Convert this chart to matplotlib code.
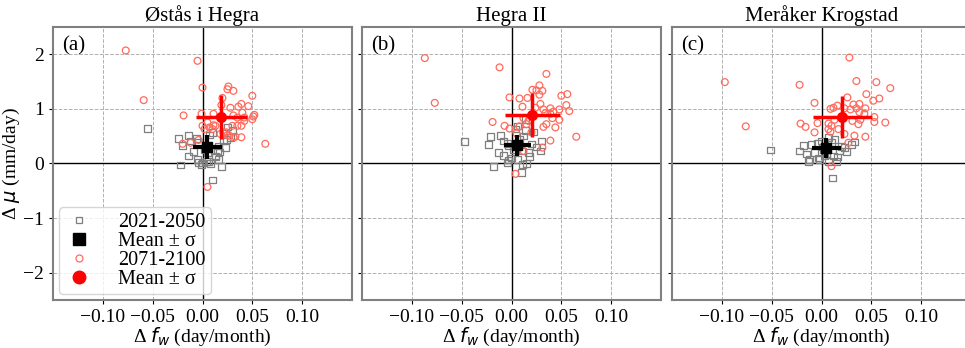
import numpy as np
import matplotlib.pyplot as plt
from matplotlib.lines import Line2D

plt.rcParams['font.family'] = ['Liberation Serif', 'DejaVu Serif']
plt.rcParams['mathtext.fontset'] = 'dejavusans'

sites = ["Østås i Hegra", "Hegra II", "Meråker Krogstad"]
panel_tags = ["(a)", "(b)", "(c)"]

# near future (2021-2050): change in wet-day frequency and mean intensity
near_fw = [
    [-0.055, -0.024, -0.020, -0.014, -0.012, -0.006, -0.004, -0.022, -0.014, -0.009,
     -0.004, -0.001, 0.008, 0.019, 0.004, 0.010, 0.025, 0.030, 0.023, 0.017,
     0.013, 0.016, 0.028, 0.021, 0.010, 0.007, -0.005, 0.000, 0.006, 0.013,
     0.015, 0.024, 0.016, 0.002, 0.005],
    [-0.047, -0.023, -0.021, -0.011, -0.004, -0.008, -0.003, -0.018, -0.008, -0.003,
     -0.004, 0.006, 0.011, 0.015, 0.010, 0.029, 0.030, 0.022, 0.014, 0.017,
     0.011, 0.004, 0.014, 0.006, 0.002, 0.008, 0.020, 0.000, 0.012, 0.025,
     -0.013, 0.018],
    [-0.051, -0.022, -0.018, -0.015, -0.012, -0.010, -0.004, 0.000, 0.002, -0.013,
     -0.002, 0.003, 0.007, 0.015, 0.012, 0.018, 0.023, 0.030, 0.033, 0.013,
     0.010, 0.007, 0.011, -0.007, 0.005, 0.020, 0.025, -0.003, 0.016, 0.001],
]
near_mu = [
    [0.64, 0.46, 0.33, 0.51, 0.41, 0.46, 0.38, -0.03, 0.14, 0.22,
     0.02, -0.02, 0.00, -0.06, 0.04, -0.30, 0.67, 0.60, 0.29, 0.21,
     0.14, 0.07, 0.48, 0.41, 0.57, 0.52, 0.07, 0.01, 0.04, 0.12,
     0.23, 0.44, 0.32, 0.26, 0.20],
    [0.40, 0.35, 0.49, 0.51, 0.37, 0.41, 0.32, -0.06, 0.15, 0.06,
     0.01, 0.07, -0.02, 0.00, -0.17, 0.23, 0.41, 0.58, 0.60, 0.20,
     0.23, 0.63, 0.81, 0.69, 0.26, 0.45, 0.36, 0.10, 0.50, 0.30,
     0.20, 0.13],
    [0.25, 0.23, 0.33, 0.17, 0.07, 0.35, 0.37, 0.41, 0.26, 0.04,
     0.07, 0.14, 0.04, 0.04, 0.14, 0.23, 0.29, 0.35, 0.39, 0.44,
     0.38, 0.48, -0.27, 0.20, 0.18, 0.31, 0.22, 0.10, 0.12, 0.30],
]

# far future (2071-2100)
far_fw = [
    [-0.077, -0.005, 0.000, -0.059, -0.019, 0.026, 0.025, 0.031, 0.050, 0.020,
     0.039, 0.046, 0.036, 0.028, 0.019, 0.040, 0.052, 0.051, 0.050, 0.042,
     0.042, 0.035, 0.031, -0.001, 0.011, 0.035, 0.039, 0.030, 0.000, 0.002,
     0.011, 0.007, 0.021, 0.018, 0.025, 0.033, 0.039, 0.031, 0.063, -0.020,
     -0.012, -0.004, 0.005, 0.005, 0.013, 0.010, 0.024, 0.027],
    [-0.087, -0.012, 0.035, -0.077, 0.028, 0.021, 0.025, 0.031, 0.028, 0.050,
     0.056, 0.055, 0.058, -0.002, 0.008, 0.016, 0.011, 0.029, 0.032, 0.039,
     0.048, 0.042, 0.039, 0.034, 0.048, 0.041, 0.044, 0.035, 0.032, -0.019,
     -0.007, -0.002, 0.008, 0.012, 0.017, 0.015, 0.065, 0.039, 0.031, 0.020,
     0.004, 0.012, 0.024, 0.005],
    [0.028, -0.097, -0.022, 0.035, 0.055, 0.069, 0.045, 0.052, 0.058, 0.038,
     0.032, 0.026, -0.007, 0.009, 0.012, 0.016, 0.023, 0.029, 0.035, 0.044,
     0.043, 0.038, 0.053, 0.053, 0.064, 0.037, 0.031, 0.039, -0.076, -0.021,
     -0.016, -0.004, 0.007, 0.013, 0.007, 0.010, -0.007, 0.009, 0.017, 0.023,
     0.033, 0.044, 0.027, 0.010],
]
far_mu = [
    [2.07, 1.88, 1.39, 1.16, 0.88, 1.41, 1.36, 1.33, 1.24, 1.20,
     1.09, 1.05, 1.04, 1.02, 1.07, 0.93, 0.89, 0.86, 0.81, 0.84,
     0.78, 0.84, 0.88, 0.91, 0.91, 0.69, 0.69, 0.69, 0.69, 0.63,
     0.70, 0.66, 0.57, 0.54, 0.52, 0.49, 0.48, 0.48, 0.36, 0.36,
     0.38, 0.43, -0.43, 0.75, 0.69, 0.63, 0.57, 0.51],
    [1.93, 1.76, 1.64, 1.11, 1.43, 1.35, 1.34, 1.33, 1.26, 1.24,
     1.27, 1.07, 0.96, 1.21, 1.19, 1.20, 1.04, 1.09, 0.99, 1.01,
     0.99, 0.95, 0.91, 0.92, 0.80, 0.83, 0.66, 0.72, 0.67, 0.76,
     0.69, 0.64, 0.68, 0.83, 0.78, 0.72, 0.49, 0.42, 0.29, 0.57,
     -0.19, 0.23, 1.02, 0.55],
    [1.94, 1.49, 1.44, 1.51, 1.49, 1.38, 1.27, 1.15, 1.19, 1.09,
     1.08, 1.21, 1.11, 1.00, 1.02, 1.06, 1.01, 0.99, 1.01, 1.01,
     0.91, 0.94, 0.85, 0.76, 0.75, 0.72, 0.78, 0.80, 0.68, 0.73,
     0.67, 0.74, 0.73, 0.80, 0.63, 0.69, 0.57, 0.58, 0.63, 0.54,
     0.51, 0.49, 0.38, -0.05],
]

# ensemble mean and standard deviation per site
near_mean_fw = [0.005, 0.006, 0.005]
near_std_fw = [0.015, 0.014, 0.0145]
near_mean_mu = [0.31, 0.33, 0.29]
near_std_mu = [0.22, 0.20, 0.185]
far_mean_fw = [0.019, 0.021, 0.021]
far_std_fw = [0.0255, 0.028, 0.030]
far_mean_mu = [0.85, 0.89, 0.85]
far_std_mu = [0.40, 0.40, 0.38]

fig = plt.figure(figsize=(9.65, 3.48), dpi=100)
lefts = [53 / 965, 362 / 965, 672 / 965]
axes = []
for i in range(3):
    ax = fig.add_axes([lefts[i], 0.138, 299 / 965, 0.7845],
                      sharey=axes[0] if axes else None)
    axes.append(ax)

sq_col = '#7f7f7f'
ci_col = '#ff6a5c'

for i, ax in enumerate(axes):
    ax.grid(True, color='#b0b0b0', linestyle='--', linewidth=0.7)
    ax.set_axisbelow(True)
    ax.axhline(0, color='black', linewidth=1.0, zorder=1)
    ax.axvline(0, color='black', linewidth=1.0, zorder=1)

    ax.scatter(near_fw[i], near_mu[i], marker='s', s=22, facecolors='none',
               edgecolors=sq_col, linewidths=0.9, zorder=2)
    ax.scatter(far_fw[i], far_mu[i], marker='o', s=24, facecolors='none',
               edgecolors=ci_col, linewidths=0.9, zorder=3)

    ax.errorbar(near_mean_fw[i], near_mean_mu[i], xerr=near_std_fw[i], yerr=near_std_mu[i],
                fmt='s', color='black', markersize=7, elinewidth=3, capsize=0, zorder=5)
    ax.errorbar(far_mean_fw[i], far_mean_mu[i], xerr=far_std_fw[i], yerr=far_std_mu[i],
                fmt='o', color='red', markersize=7, elinewidth=2.5, capsize=0, zorder=6)

    ax.set_xlim(-0.15, 0.15)
    ax.set_ylim(-2.5, 2.5)
    ax.set_xticks([-0.10, -0.05, 0.00, 0.05, 0.10])
    ax.set_yticks([-2, -1, 0, 1, 2])
    ax.tick_params(labelsize=14, length=3, color='black')
    for sp in ax.spines.values():
        sp.set_color('#808080')
        sp.set_linewidth(1.5)
    ax.set_title(sites[i], fontsize=15, pad=4)
    ax.text(0.03, 0.965, panel_tags[i], transform=ax.transAxes, fontsize=15,
            va='top', ha='left')
    ax.set_xlabel('Δ $f_w$ (day/month)', fontsize=14, labelpad=0)
    if i > 0:
        ax.tick_params(labelleft=False)

axes[0].set_ylabel('Δ $\\mu$ (mm/day)', fontsize=14, labelpad=1)

handles = [
    Line2D([], [], linestyle='none', marker='s', markersize=5, markerfacecolor='none',
           markeredgecolor=sq_col, markeredgewidth=0.9),
    Line2D([], [], linestyle='none', marker='s', markersize=9, color='black'),
    Line2D([], [], linestyle='none', marker='o', markersize=5, markerfacecolor='none',
           markeredgecolor=ci_col, markeredgewidth=0.9),
    Line2D([], [], linestyle='none', marker='o', markersize=9, color='red'),
]
labels = ['2021-2050', 'Mean ± σ', '2071-2100', 'Mean ± σ']
axes[0].legend(handles, labels, loc='lower left', fontsize=14.5, handletextpad=1.2,
               labelspacing=0.0, borderpad=0.25, borderaxespad=0.3, handlelength=1.5)

fig.savefig('out.png', dpi=100)
